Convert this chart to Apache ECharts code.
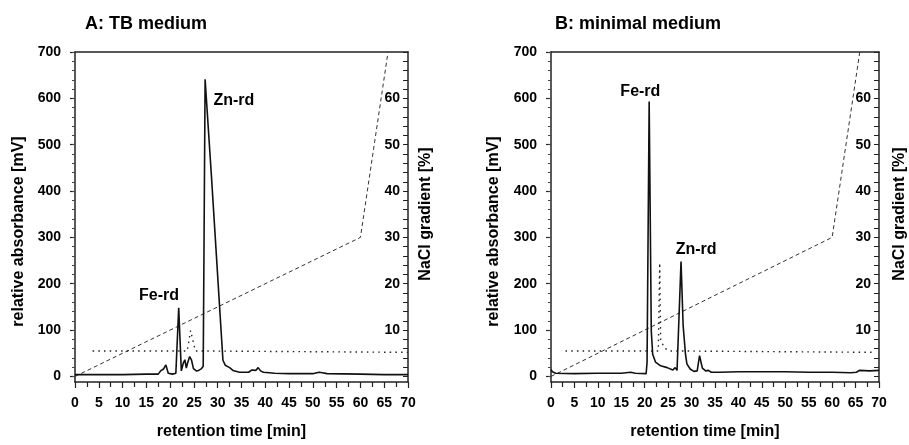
<!DOCTYPE html>
<html>
<head>
<meta charset="utf-8">
<script src="https://cdn.jsdelivr.net/npm/echarts@6/dist/echarts.min.js"></script>
<style>
html,body{margin:0;padding:0;background:#fff;}
#chart{width:909px;height:445px;}
</style>
</head>
<body>
<div id="chart"></div>
<script>
// ---- data ----
const panelTitles = ['A: TB medium', 'B: minimal medium'];
const xTitle = 'retention time [min]';
const yTitle = 'relative absorbance [mV]';
const y2Title = 'NaCl gradient [%]';

const absTickValues = [0, 100, 200, 300, 400, 500, 600, 700];
const naclLabelValues = [10, 20, 30, 40, 50, 60];

// Panel A: chromatogram (retention time [min], absorbance [mV])
const traceA = [[0,4],[2,4],[5,4],[10,4],[15,5],[17.5,5],[18.0,12],[18.3,10],[18.6,16],[19.1,25],[19.6,7],[20.5,5],[21.2,7],
  [21.8,148],[22.35,12],[22.8,30],[23.1,36],[23.4,18],[23.7,30],[24.1,43],[24.5,35],[24.9,17],[25.5,12],[26.0,13],[26.6,17],
  [26.95,22],[27.1,250],[27.35,641],[28.7,429],[31.1,35],[31.6,24],[32.5,19],[33.2,13],[34.6,9],[36.5,9],[37.2,14],[37.6,10],
  [38.0,13],[38.5,19],[39.0,12],[39.6,9],[42,7],[45,6],[50,6],[51.3,9],[52,8],[53,6],[60,5],[65,4],[70,4]];
// Panel A: dotted trace
const dottedA = [[3.7,55],[23.6,55],[24.3,99],[25.3,55],[70,52]];
// Panel A: NaCl gradient [%]
const gradientA = [[0,0],[60,30],[65.8,70]];
const peakLabelsA = [['Fe-rd',17.65,175],['Zn-rd',33.4,596]];

// Panel B
const traceB = [[0,15],[0.3,10],[1,7],[5,6],[10,7],[15,7],[17,9],[18,7],[20.3,6],[20.5,30],[20.95,593],[21.4,98],[21.7,48],
  [22.3,31],[23.4,23],[24.8,19],[26.0,14],[26.5,19],[26.9,13],[27.25,16],[27.75,248],[28.2,110],[28.7,48],[29.0,27],[29.7,16],
  [30.5,11],[31.2,12],[31.7,45],[32.3,18],[33.0,12],[33.6,13],[34.2,9],[36,9],[40,10],[45,10],[50,10],[55,9],[60,9],[64,8],
  [65.2,9],[65.8,13],[68,12],[70,13]];
const dottedB = [[3.1,55],[22.9,55],[23.2,245],[23.4,77],[24.4,60],[25.5,55],[69.3,52]];
const gradientB = [[0,0],[60,30],[65.9,70]];
const peakLabelsB = [['Fe-rd',19.07,615],['Zn-rd',30.97,274]];

// ---- chart ----
const FONT = 'Liberation Sans, Arial, Helvetica, sans-serif';
const INK = '#000';
const absMinor = []; for (let v = 0; v <= 700; v += 20) absMinor.push(v);
const naclTicks = []; for (let v = 0; v <= 70; v += 2) naclTicks.push(v);

const grids = [
  {left: 75, top: 52, width: 333, height: 332},
  {left: 551, top: 52, width: 331, height: 332}
];
const yNameGap = [48, 49];
const y2NameGap = [10, 13];

const xAxes = [], yAxes = [], series = [];
const lineStyleAxis = {color: '#222', width: 1.5};
const traces = [traceA, traceB], dotted = [dottedA, dottedB], grads = [gradientA, gradientB], peaks = [peakLabelsA, peakLabelsB];

for (let g = 0; g < 2; g++) {
  xAxes.push({
    gridIndex: g, type: 'value', min: 0, max: 70, interval: 5, position: 'bottom',
    axisLine: {show: true, onZero: false, lineStyle: lineStyleAxis},
    axisTick: {show: true, length: 6, lineStyle: {color: '#222', width: 1.2}},
    minorTick: {show: true, splitNumber: 2, length: 5, lineStyle: {color: '#222', width: 1.2}},
    splitLine: {show: false}, minorSplitLine: {show: false},
    axisLabel: {margin: 14, color: INK, fontFamily: FONT, fontWeight: 'bold', fontSize: 14},
    name: xTitle, nameLocation: 'middle', nameGap: 42,
    nameTextStyle: {color: INK, fontFamily: FONT, fontWeight: 'bold', fontSize: 16, padding: [0, 20, 0, 0]}
  });
  xAxes.push({
    gridIndex: g, type: 'value', min: 0, max: 70, position: 'top',
    axisLine: {show: true, onZero: false, lineStyle: lineStyleAxis},
    axisTick: {show: false}, axisLabel: {show: false}, splitLine: {show: false}
  });
  yAxes.push({
    gridIndex: g, type: 'value', min: -12, max: 700, position: 'left',
    axisLine: {show: true, onZero: false, lineStyle: lineStyleAxis},
    axisTick: {show: true, length: 5, customValues: absTickValues, lineStyle: {color: '#222', width: 1.2}},
    axisLabel: {customValues: absTickValues, margin: 14, color: INK, fontFamily: FONT, fontWeight: 'bold', fontSize: 14},
    splitLine: {show: false},
    name: yTitle, nameLocation: 'middle', nameGap: yNameGap[g], nameRotate: 90,
    nameTextStyle: {color: INK, fontFamily: FONT, fontWeight: 'bold', fontSize: 16, padding: [0, 29, 0, 0]}
  });
  yAxes.push({
    gridIndex: g, type: 'value', min: -12, max: 700, position: 'left',
    axisLine: {show: false},
    axisTick: {show: true, length: 3, customValues: absMinor, lineStyle: {color: '#444', width: 1}},
    axisLabel: {show: false}, splitLine: {show: false}
  });
  yAxes.push({
    gridIndex: g, type: 'value', min: -1.2, max: 70, position: 'right',
    axisLine: {show: true, onZero: false, lineStyle: lineStyleAxis},
    axisTick: {show: true, inside: true, length: 5, customValues: naclTicks, lineStyle: {color: '#222', width: 1}},
    axisLabel: {inside: true, customValues: naclLabelValues, margin: 8, color: INK, fontFamily: FONT, fontWeight: 'bold', fontSize: 14},
    splitLine: {show: false},
    name: y2Title, nameLocation: 'middle', nameGap: y2NameGap[g], nameRotate: 90,
    nameTextStyle: {color: INK, fontFamily: FONT, fontWeight: 'bold', fontSize: 16, padding: [0, 0, 0, 6]}
  });

  const xi = g * 2, yi = g * 3;
  series.push({
    type: 'line', xAxisIndex: xi, yAxisIndex: yi + 2, data: grads[g], showSymbol: false, silent: true,
    lineStyle: {color: '#333', width: 1, type: [4, 3]}
  });
  series.push({
    type: 'line', xAxisIndex: xi, yAxisIndex: yi, data: dotted[g], showSymbol: false, silent: true,
    lineStyle: {color: '#222', width: 1.4, type: [1.5, 4.2]}
  });
  series.push({
    type: 'line', xAxisIndex: xi, yAxisIndex: yi, data: traces[g], showSymbol: false, silent: true,
    lineStyle: {color: '#111', width: 1.6}
  });
  series.push({
    type: 'scatter', xAxisIndex: xi, yAxisIndex: yi, symbolSize: 0, silent: true,
    itemStyle: {opacity: 1, color: '#000'},
    data: peaks[g].map(p => ({name: p[0], value: [p[1], p[2]]})),
    label: {show: true, position: 'inside', formatter: '{b}', color: INK, opacity: 1, textBorderWidth: 0,
      fontFamily: FONT, fontWeight: 'bold', fontSize: 16}
  });
}

const chart = echarts.init(document.getElementById('chart'), null, {renderer: 'canvas'});
chart.setOption({
  animation: false,
  backgroundColor: '#fff',
  title: [
    {text: panelTitles[0], left: 80, top: 10, textStyle: {color: INK, fontFamily: FONT, fontWeight: 'bold', fontSize: 18}},
    {text: panelTitles[1], left: 550, top: 10, textStyle: {color: INK, fontFamily: FONT, fontWeight: 'bold', fontSize: 18}}
  ],
  grid: grids,
  xAxis: xAxes,
  yAxis: yAxes,
  series: series
});
</script>
</body>
</html>
